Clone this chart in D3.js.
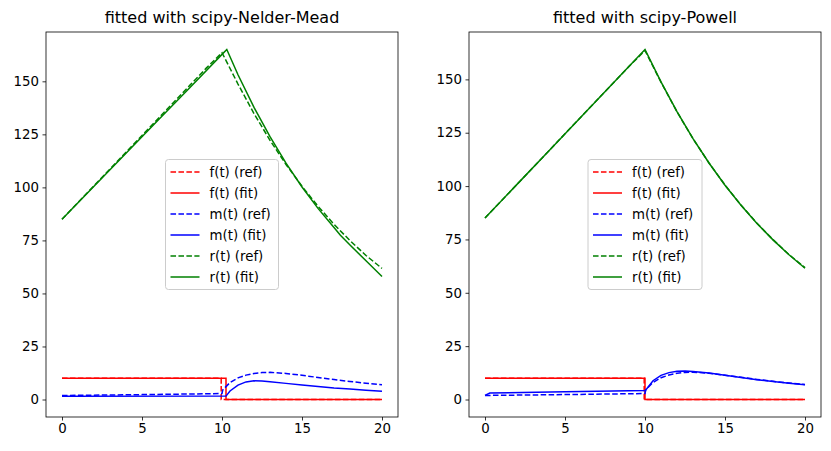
<!DOCTYPE html>
<html>
<head>
<meta charset="utf-8">
<script src="https://cdn.jsdelivr.net/npm/d3@7"></script>
<style>
  body { margin: 0; background: #fff; }
  svg { font-family: "DejaVu Sans", sans-serif; }
</style>
</head>
<body>
<svg id="chart" width="831" height="451"></svg>
<script>
// step functions f(t)
const tStepRef = [0, 9.95, 9.95, 20];
const fRef = [10, 10, 0, 0];
const tStepNM = [0, 10.25, 10.25, 20];
const fFitNM = [10, 10, 0, 0];
const tStepPow = [0, 10, 10, 20];
const fFitPow = [10, 10, 0, 0];

// m(t)
const tmRef = [0, 5, 10, 10.05, 10.5, 11, 11.5, 12, 12.5, 13, 14, 15, 16, 17, 18, 19, 20];
const mRef = [1.9, 2.3, 2.8, 4.5, 8.0, 10.2, 11.5, 12.3, 12.7, 12.8, 12.3, 11.4, 10.4, 9.4, 8.5, 7.7, 7.0];
const tmNM = [0, 10.25, 10.5, 11, 11.5, 12, 12.5, 13, 14, 15, 16, 17, 18, 19, 20];
const mFitNM = [1.5, 1.6, 4.0, 6.8, 8.3, 8.8, 8.7, 8.4, 7.6, 6.8, 6.1, 5.4, 4.9, 4.4, 3.9];
const tmPow = [0, 0.3, 5, 10, 10.05, 10.5, 11, 11.5, 12, 12.5, 13, 14, 15, 16, 17, 18, 19, 20];
const mFitPow = [1.9, 3.0, 3.6, 4.2, 4.5, 8.8, 11.3, 12.6, 13.2, 13.3, 13.1, 12.4, 11.4, 10.3, 9.3, 8.4, 7.6, 6.9];

// r(t)
const trRef = [0, 1, 2, 3, 4, 5, 6, 7, 8, 9, 10, 11, 12, 13, 14, 15, 16, 17, 18, 19, 20];
const rRef = [85, 92.9, 100.8, 108.7, 116.6, 124.5, 132.4, 140.3, 148.2, 156.1, 163.5,
              148.7, 134.8, 122.2, 110.8, 100.5, 91.1, 82.6, 74.9, 67.9, 61.8];
const trNM = [0, 2, 4, 6, 8, 10, 10.3, 11, 12, 13, 14, 15, 16, 17, 17.4, 18, 19, 20];
const rFitNM = [85, 100.5, 116.1, 131.6, 147.1, 162.7, 165.0, 153.1, 137.7, 123.9, 111.4, 100.2, 90.1, 81.1, 77.4, 72.8, 65.4, 58.0];
const trPow = [0, 2, 4, 6, 8, 10, 11, 12, 13, 14, 15, 16, 17, 18, 19, 20];
const rFitPow = [85, 100.8, 116.6, 132.4, 148.2, 164.0, 148.8, 134.9, 122.2, 110.8, 100.4, 91.0, 82.5, 74.8, 67.8, 61.5];

const panels = [
  {title: "fitted with scipy-Nelder-Mead", left: 46, fit: {f: [tStepNM, fFitNM], m: [tmNM, mFitNM], r: [trNM, rFitNM]}},
  {title: "fitted with scipy-Powell", left: 469, fit: {f: [tStepPow, fFitPow], m: [tmPow, mFitPow], r: [trPow, rFitPow]}}
];
const xTicks = [0, 5, 10, 15, 20];
const yTicks = [0, 25, 50, 75, 100, 125, 150];

const plotW = 352, plotTop = 32, plotH = 385;
const dash = "5.55,2.4";
const svg = d3.select('#chart');

panels.forEach(p => {
  const series = [
    {label: "f(t) (ref)", t: tStepRef, v: fRef, color: "#ff0000", dash: dash},
    {label: "f(t) (fit)", t: p.fit.f[0], v: p.fit.f[1], color: "#ff0000", dash: null},
    {label: "m(t) (ref)", t: tmRef, v: mRef, color: "#0000ff", dash: dash},
    {label: "m(t) (fit)", t: p.fit.m[0], v: p.fit.m[1], color: "#0000ff", dash: null},
    {label: "r(t) (ref)", t: trRef, v: rRef, color: "#008000", dash: dash},
    {label: "r(t) (fit)", t: p.fit.r[0], v: p.fit.r[1], color: "#008000", dash: null}
  ];

  const allT = series.flatMap(s => s.t), allV = series.flatMap(s => s.v);
  const [tMin, tMax] = d3.extent(allT), [vMin, vMax] = d3.extent(allV);
  const tPad = (tMax - tMin) * 0.05, vPad = (vMax - vMin) * 0.05;

  const x = d3.scaleLinear().domain([tMin - tPad, tMax + tPad]).range([0, plotW]);
  const y = d3.scaleLinear().domain([vMin - vPad, vMax + vPad]).range([plotH, 0]);

  const g = svg.append('g').attr('transform', `translate(${p.left},${plotTop})`);

  const line = d3.line().x(d => x(d[0])).y(d => y(d[1]));
  series.forEach(s => {
    g.append('path')
      .datum(s.t.map((t, i) => [t, s.v[i]]))
      .attr('d', line)
      .attr('fill', 'none')
      .attr('stroke', s.color)
      .attr('stroke-width', 1.5)
      .attr('stroke-dasharray', s.dash);
  });

  // frame
  g.append('rect').attr('width', plotW).attr('height', plotH)
    .attr('fill', 'none').attr('stroke', '#000').attr('stroke-width', 0.8);

  const xAxis = g.append('g').attr('transform', `translate(0,${plotH})`)
    .call(d3.axisBottom(x).tickValues(xTicks).tickSize(3.5).tickPadding(3.5).tickFormat(d3.format('d')));
  const yAxis = g.append('g')
    .call(d3.axisLeft(y).tickValues(yTicks).tickSize(3.5).tickPadding(3.5).tickFormat(d3.format('d')));
  [xAxis, yAxis].forEach(a => {
    a.select('.domain').remove();
    a.selectAll('line').attr('stroke-width', 0.8);
    a.selectAll('text').attr('font-size', '13.33px').attr('font-family', '"DejaVu Sans", sans-serif').attr('fill', '#000');
  });

  g.append('text')
    .attr('x', plotW / 2).attr('y', -9)
    .attr('text-anchor', 'middle')
    .attr('font-size', '16px')
    .text(p.title);

  // legend, centred in the axes
  const legW = p.left === 46 ? 113 : 114, legH = 130, rowH = 21;
  const lg = g.append('g').attr('transform', `translate(${(plotW - legW) / 2},${(plotH - legH) / 2})`);
  lg.append('rect').attr('width', legW).attr('height', legH).attr('rx', 3)
    .attr('fill', '#fff').attr('fill-opacity', 0.8).attr('stroke', '#cccccc').attr('stroke-width', 1);
  series.forEach((s, i) => {
    const cy = 12.5 + i * rowH;
    lg.append('line').attr('x1', 5).attr('x2', 34).attr('y1', cy).attr('y2', cy)
      .attr('stroke', s.color).attr('stroke-width', 1.5).attr('stroke-dasharray', s.dash);
    lg.append('text').attr('x', 44).attr('y', cy).attr('dy', '0.35em')
      .attr('font-size', '13.33px').text(s.label);
  });
});
</script>
</body>
</html>
